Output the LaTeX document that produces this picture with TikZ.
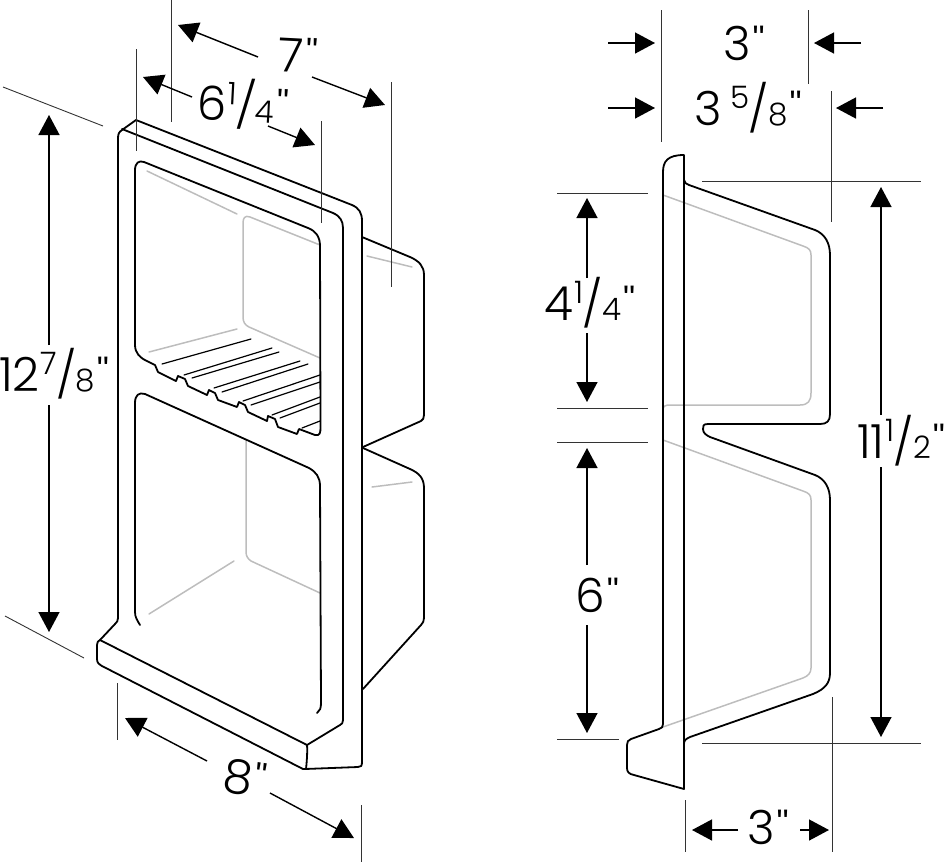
\documentclass[tikz,border=0pt]{standalone}
\usepackage{fontspec}
\setmainfont{Poppins Light}
\newfontfamily\tickfont{Liberation Sans}
\usetikzlibrary{arrows.meta}
\definecolor{ghost}{HTML}{BDBDBD}
\definecolor{dimgrey}{HTML}{333333}
\newcommand\tk{\kern2pt\raisebox{11pt}{\fontsize{34}{34}\tickfont"}}
\newcommand\frc[2]{\kern1pt\raisebox{.36em}{\fontsize{31}{31}\selectfont #1}\kern-.02em{\fontsize{46}{46}\selectfont/}\kern-.02em{\fontsize{31}{31}\selectfont #2}}
\tikzset{
  outline/.style={line width=1.8pt,black,line join=round,line cap=round},
  thinline/.style={line width=1.2pt,black,line join=round,line cap=round},
  hidden/.style={line width=1.5pt,ghost,line join=round,line cap=round},
  extline/.style={line width=0.9pt,dimgrey},
  dimarrow/.style={line width=1.4pt,black,-{Triangle[length=20pt,width=21pt]}},
  dimtext/.style={font=\fontsize{47}{47}\selectfont,inner sep=0pt},
}
\begin{document}
\begin{tikzpicture}[x=1pt,y=-1pt]
\useasboundingbox (0,0) rectangle (945,863);
% ---------- left view: hidden lines
\draw[hidden] (147,171) -- (237,214);
\draw[hidden] (320,245) -- (250,217) .. controls (245,215) and (243,218) .. (243,223) -- (243,317) .. controls (243,322) and (245,325) .. (249,327) -- (320,358);
\draw[hidden] (149,352) -- (237,329);
\draw[hidden] (367,256) -- (412,267);
\draw[hidden] (246,440) -- (246,552) .. controls (246,556) and (248,559) .. (251,561) -- (320,593);
\draw[hidden] (149,614) -- (234,561);
\draw[hidden] (372,487) -- (412,482);
% ---------- left view: outline
\draw[outline] (136,120) -- (122,130) .. controls (119,132) and (118,134) .. (118,138) -- (118,618) .. controls (118,621) and (117,622) .. (115,624) -- (100,640);
\draw[outline] (136,120) -- (352,205) .. controls (359,208) and (362,213) .. (362,221) -- (362,762) .. controls (362,766) and (361,767) .. (358,767) -- (305,769);
\draw[outline] (122,129) -- (333,213) .. controls (340,216) and (343,221) .. (343,228) -- (343,720) .. controls (343,723) and (342,724) .. (340,725) -- (307,745);
\draw[outline] (100,640) -- (307,745) .. controls (307.5,750) and (307,760) .. (306,769);
\draw[outline] (100,640) .. controls (98,641) and (97,642) .. (97,645) -- (97,659) .. controls (97,663) and (99,664) .. (102,666) -- (303,769) -- (306,769);
% upper niche
\draw[outline] (135,345) -- (135,170) .. controls (135,163) and (139,160) .. (144,162) -- (308,228) .. controls (316,231) and (320,237) .. (320,246) -- (320.5,427) .. controls (320.5,433) and (320,436) .. (315,435) -- (299,429) -- (297,434) -- (278,427) -- (275,419) -- (268,416) -- (267,421) -- (248,412) -- (245,405) -- (239,402) -- (237,407) -- (218,400) -- (215,393) -- (209,390) -- (207,395) -- (188,386) -- (185,379) -- (178,376) -- (176,381) -- (158,372) -- (155,365) -- (147,361) .. controls (140,358) and (135,353) .. (135,345);
% shelf ribs
\draw[thinline] (162,364) -- (251,339);
\draw[thinline] (184,375) -- (272,348);
\draw[thinline] (192,378) -- (279,352);
\draw[thinline] (214,388) -- (300,361);
\draw[thinline] (222,392) -- (308,364);
\draw[thinline] (243,401) -- (320,375);
\draw[thinline] (251,405) -- (320,382);
\draw[thinline] (272,415) -- (320,397);
\draw[thinline] (280,418) -- (320,403);
\draw[thinline] (302,428) -- (320,421);
% lower niche
\draw[outline] (140,625) .. controls (137,620) and (135,617) .. (135,612) -- (135,403) .. controls (135,395) and (139,392) .. (145,394) -- (309,468) .. controls (316,472) and (320,477) .. (320,486) -- (321,703) .. controls (321,708) and (320,711) .. (317,713);
% body behind
\draw[outline] (362,237) -- (410,257) .. controls (419,261) and (424,266) .. (424,275) -- (424,415) .. controls (424,418) and (423,420) .. (421,421) -- (363,447);
\draw[outline] (363,448) -- (410,469) .. controls (419,473) and (424,478) .. (424,488) -- (424,618) .. controls (424,621) and (423,623) .. (421,625) -- (363,689);
% ---------- left view: dimensions
\coordinate (xa1) at (3,87); \coordinate (xa2) at (103,126);
\coordinate (xb1) at (5,616); \coordinate (xb2) at (84,658);
\draw[extline] (xa1) -- (xa2);
\draw[extline] (xb1) -- (xb2);
\draw[extline] (136,49) -- (136,151);
\draw[extline] (171,0) -- (171,122);
\draw[extline] (321,121) -- (321,223);
\draw[extline] (391,82) -- (391,287);
\draw[extline] (117,683) -- (117,740);
\draw[extline] (361,805) -- (361,862);
\node[dimtext,rotate=-3] (t7) at (298,55) {7\tk};
\draw[dimarrow] (258,57) -- (178,25);
\draw[dimarrow] (312,77) -- (385,105);
\node[dimtext,rotate=-3] (t614) at (243,104) {6\frc14\tk};
\draw[dimarrow] (192,97) -- (143,77);
\draw[dimarrow] (268,126) -- (315,145);
\node[dimtext] (t1278) at (54,374) {12\frc78\tk};
\draw[dimarrow] (49,345) -- (49,115);
\draw[dimarrow] (49,405) -- (49,632);
\node[dimtext,rotate=-8] (t8) at (245,778) {8\tk};
\draw[dimarrow] (207,761) -- (125,718);
\draw[dimarrow] (270,793) -- (354,838);
% ---------- right view: hidden lines
\draw[hidden] (663,195) -- (803,246) .. controls (809,248) and (811,250) .. (811,255) -- (811,393) .. controls (811,401) and (808,405) .. (800,405) -- (670,405) .. controls (666,405) and (663,406) .. (663,409);
\draw[hidden] (663,440) -- (803,491) .. controls (809,493) and (811,495) .. (811,500) -- (811,668) .. controls (811,673) and (808,676) .. (803,678) -- (663,727);
% ---------- right view: outline
\draw[outline] (684,155) -- (684,789) -- (634,775) .. controls (629,774) and (627,772) .. (627,768) -- (627,745) .. controls (627,742) and (628,740) .. (631,739) -- (659,729) .. controls (662,728) and (663,727) .. (663,724) -- (663,172) .. controls (663,161) and (668,155) .. (684,155);
\draw[outline] (684,180) .. controls (685,183) and (686,184) .. (689,185) -- (815,230) .. controls (825,234) and (830,243) .. (830,255) -- (830,414) .. controls (830,421) and (827,424) .. (820,424) -- (708,424) .. controls (703,424) and (703,426) .. (703,429) .. controls (703,433) and (706,435) .. (710,437) -- (815,475) .. controls (825,479) and (830,488) .. (830,500) -- (830,673) .. controls (830,683) and (825,689) .. (813,694) -- (690,737) .. controls (686,739) and (684,740) .. (684,744);
% ---------- right view: dimensions
\draw[extline] (661,10) -- (661,142);
\draw[extline] (808,10) -- (808,84);
\draw[extline] (831,91) -- (831,222);
\draw[extline] (557,193) -- (648,193);
\draw[extline] (557,408) -- (648,408);
\draw[extline] (557,442) -- (648,442);
\draw[extline] (557,739) -- (619,739);
\draw[extline] (702,181) -- (921,181);
\draw[extline] (702,743) -- (921,743);
\draw[extline] (832,697) -- (832,852);
\draw[extline] (685,800) -- (685,852);
\node[dimtext] (t3a) at (744,43) {3\tk};
\draw[dimarrow] (608,43) -- (655,43);
\draw[dimarrow] (861,43) -- (814,43);
\node[dimtext] (t358) at (748,108) {3\,\frc58\tk};
\draw[dimarrow] (608,108) -- (655,108);
\draw[dimarrow] (883,108) -- (836,108);
\node[dimtext] (t414) at (590,303) {4\frc14\tk};
\draw[dimarrow] (587,278) -- (587,198);
\draw[dimarrow] (587,333) -- (587,402);
\node[dimtext] (t6) at (597,595) {6\tk};
\draw[dimarrow] (587,565) -- (587,448);
\draw[dimarrow] (587,625) -- (587,733);
\node[dimtext] (t1112) at (901,441) {11\frc12\tk};
\draw[dimarrow] (881,415) -- (881,187);
\draw[dimarrow] (881,467) -- (881,737);
\node[dimtext] (t3b) at (768,827) {3\tk};
\draw[dimarrow] (738,830) -- (692,830);
\draw[dimarrow] (800,830) -- (829,830);
\end{tikzpicture}
\end{document}
